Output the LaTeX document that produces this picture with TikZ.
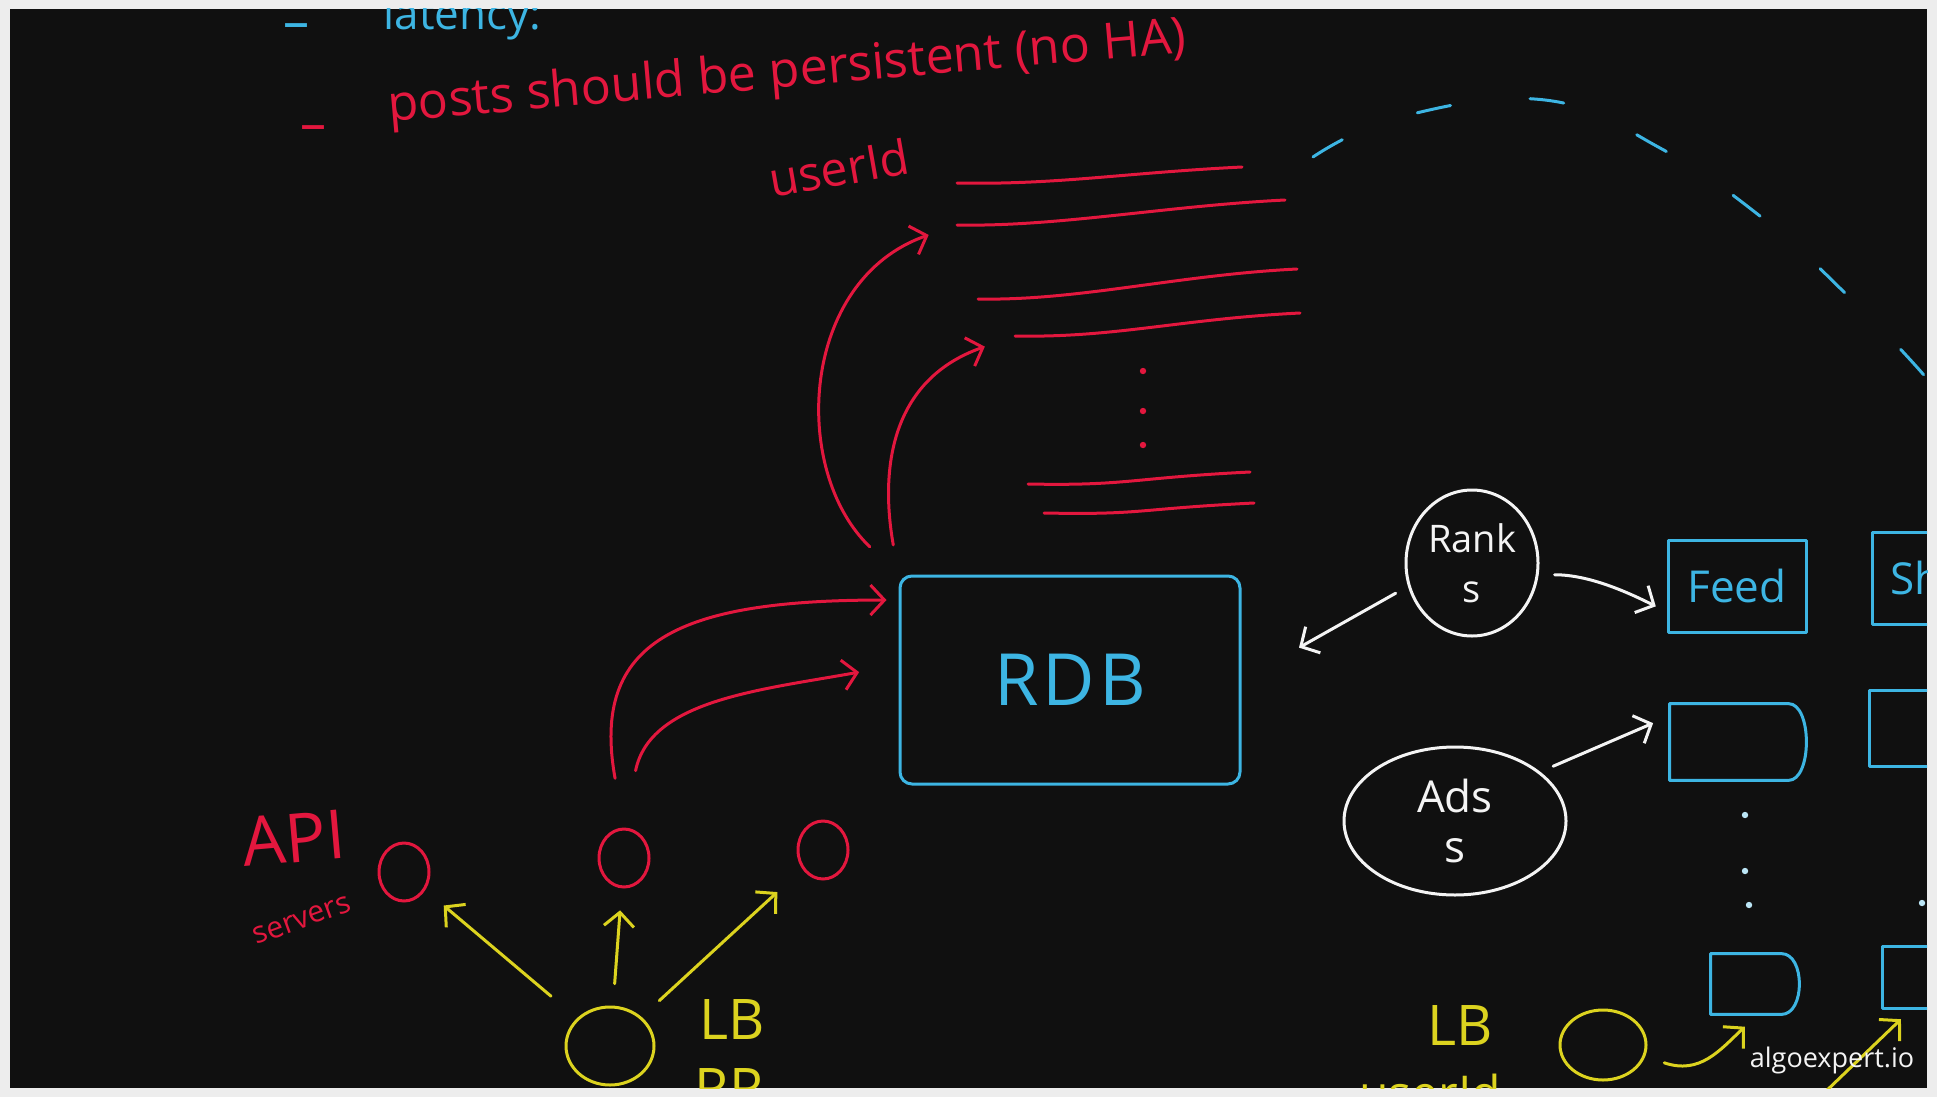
\documentclass[tikz,border=0pt]{standalone}
\usepackage{fontspec}
\setmainfont{Open Sans}
\usetikzlibrary{arrows.meta,positioning,shapes.geometric}
\definecolor{BoardInk}{HTML}{101010}
\definecolor{BoardFrame}{HTML}{EDEDED}
\definecolor{BoardRed}{HTML}{E3173E}
\definecolor{BoardBlue}{HTML}{3DB5E3}
\definecolor{BoardYellow}{HTML}{DCD31F}
\definecolor{BoardWhite}{HTML}{F4F4F4}

\begin{document}
\begin{tikzpicture}[x=0.5pt,y=-0.5pt,
    ink/.style={line width=1.5pt, line cap=round, line join=round},
    redpen/.style={ink, draw=BoardRed},
    bluepen/.style={ink, draw=BoardBlue},
    yellowpen/.style={ink, draw=BoardYellow},
    whitepen/.style={ink, draw=BoardWhite},
    barb/.style={-{Straight Barb[length=7pt,width=15pt]}},
    scrawl/.style={inner sep=0pt, font=\fontsize{#1}{#1}\selectfont},
    server/.style={redpen, ellipse, minimum width=25pt, minimum height=29pt, inner sep=0pt},
    balancer/.style={yellowpen, ellipse, inner sep=0pt},
    service/.style={whitepen, ellipse, inner sep=0pt, text=BoardWhite, align=center},
    cell/.style={bluepen, rectangle, inner sep=0pt, text=BoardBlue},
    slot/.style={rectangle, inner sep=0pt}]
    \useasboundingbox (0,0) rectangle (1937,1097);
    \fill[BoardFrame] (0,0) rectangle (1937,1097);
    \fill[BoardInk] (10,9) rectangle (1927,1088);
    \begin{scope}
    \clip (10,9) rectangle (1927,1088);

    % notes at the top
    \node[scrawl=26, text=BoardBlue] (scaledash) at (296,32) {–};
    \node[scrawl=22, text=BoardBlue, anchor=base west] (scalenote) at (383,30) {latency:};
    \node[scrawl=26, text=BoardRed] (postdash) at (313,134) {–};
    \node[scrawl=25, text=BoardRed, anchor=base west, rotate=5] (postnote) at (389,122)
      {posts should be persistent (no HA)};
    \node[scrawl=24, text=BoardRed, anchor=base west, rotate=10] (useridnote) at (772,198) {userId};

    % rows of the posts table
    \foreach \n/\wx/\wy/\ex/\ey in {1/957/183/1242/167, 2/957/225/1285/200, 3/978/299/1297/269,
        4/1015/336/1300/313, 5/1028/484/1250/472, 6/1044/513/1254/503} {
      \coordinate (row\n w) at (\wx,\wy);
      \coordinate (row\n e) at (\ex,\ey);
      \draw[redpen] (row\n w) .. controls +(100,2) and +(-120,6) .. (row\n e);
    }
    \fill[BoardRed] (1143,371) circle (1.6pt) (1143,411) circle (1.6pt) (1143,445) circle (1.6pt);

    % database
    \node[cell, rounded corners=6pt, minimum width=170pt, minimum height=104pt,
      font=\fontsize{36}{36}\selectfont] (rdb) at (1070,680) {R\kern2pt D\kern2pt B};

    % api servers
    \node[server] (apiA) at (404,872) {};
    \node[server] (apiB) at (624,858) {};
    \node[server] (apiC) at (823,850) {};
    \node[scrawl=34, text=BoardRed, rotate=5] (apilabel) at (294,838) {API};
    \node[scrawl=15, text=BoardRed, rotate=20] (serverslabel) at (302,920) {servers};

    \draw[redpen, barb, shorten <=20pt, shorten >=15pt]
      (rdb.north west) .. controls (790,470) and (800,280) .. (row2w);
    \draw[redpen, barb, shorten <=15pt, shorten >=16pt]
      (rdb.north west) .. controls (880,470) and (890,380) .. (row4w);
    \draw[redpen, barb, shorten <=25pt, shorten >=6pt]
      (apiB.north) .. controls (590,640) and (680,600) .. (rdb.155);
    \draw[redpen, barb, shorten <=29pt, shorten >=20pt]
      (apiB.north) .. controls (650,700) and (760,690) .. (rdb.175);

    % load balancer on the left
    \node[balancer, minimum width=44pt, minimum height=39pt] (lbleft) at (610,1046) {};
    \node[scrawl=28, text=BoardYellow] (lbleftlabel) at (732,1019) {LB};
    \node[scrawl=28, text=BoardYellow] (rrlabel) at (729,1088) {RR};
    \draw[yellowpen, barb, shorten <=17pt, shorten >=12pt] (lbleft) -- (apiA);
    \draw[yellowpen, barb, shorten <=11pt, shorten >=11pt] (lbleft) -- (apiB);
    \draw[yellowpen, barb, shorten <=12pt, shorten >=17pt] (lbleft) -- (apiC);

    % ranking and ads services
    \node[service, minimum width=66pt, minimum height=73pt,
      font=\fontsize{19}{19}\selectfont] (rank) at (1472,563) {Rank\\[6pt]s};
    \node[service, minimum width=111pt, minimum height=74pt,
      font=\fontsize{22}{22}\selectfont] (ads) at (1455,821) {Ads\\[3pt]s};

    % feed shards
    \node[cell, minimum width=69pt, minimum height=46pt, font=\fontsize{22}{22}\selectfont]
      (feed) at (1737,586) {Feed};
    \node[slot, minimum width=71pt, minimum height=38pt] (blankA) at (1741,742) {};
    \node[slot, minimum width=47pt, minimum height=30pt] (blankB) at (1758,984) {};
    \foreach \b in {blankA,blankB}
      \draw[bluepen] (\b.north west) -- ([xshift=-12pt]\b.north east)
        .. controls (\b.north east) and (\b.south east) .. ([xshift=-12pt]\b.south east)
        -- (\b.south west) -- cycle;
    \node[cell, anchor=west, inner xsep=9pt, minimum height=46pt, font=\fontsize{22}{22}\selectfont]
      (shard) at (1871,578) {Shard};
    \node[cell, anchor=west, minimum width=70pt, minimum height=38pt] (shardA) at (1868,728) {};
    \node[cell, anchor=west, minimum width=70pt, minimum height=31pt] (shardB) at (1881,977) {};
    \fill[BoardBlue!35!white] (1745,815) circle (1.6pt) (1745,871) circle (1.6pt)
      (1749,905) circle (1.6pt) (1922,903) circle (1.6pt);

    \draw[whitepen, barb, shorten <=7pt, shorten >=33pt] (rank.200) -- (rdb.east);
    \draw[whitepen, barb, shorten <=8pt, shorten >=6pt]
      (rank.350) .. controls +(50,0) and +(-40,-20) .. (feed.200);
    \draw[whitepen, barb, shorten <=7pt, shorten >=9pt] (ads.30) -- (blankA.160);

    % load balancer on the right
    \node[balancer, minimum width=43pt, minimum height=35pt] (lbright) at (1603,1045) {};
    \node[scrawl=28, text=BoardYellow] (lbrightlabel) at (1460,1025) {LB};
    \node[scrawl=24, text=BoardYellow, anchor=base west] (useridkey) at (1359,1110) {userId};
    \coordinate (feedin) at (1822,1095);
    \draw[yellowpen, barb, shorten <=10pt, shorten >=9pt]
      (lbright.-15) .. controls (1700,1075) and (1720,1050) .. (blankB.south);
    \draw[yellowpen, barb, shorten >=7pt] (feedin) -- ([xshift=15pt]shardB.south west);

    \node[scrawl=13.5, text=BoardWhite] (watermark) at (1832,1060) {algoexpert.io};

    % dashed ring
    \draw[bluepen, dash pattern=on 17pt off 40pt] plot[smooth, tension=0.7] coordinates
      {(1313,157) (1400,117) (1545,100) (1660,148) (1765,220) (1845,293) (1915,365) (1960,420)};
    \end{scope}
  \end{tikzpicture}
\end{document}
